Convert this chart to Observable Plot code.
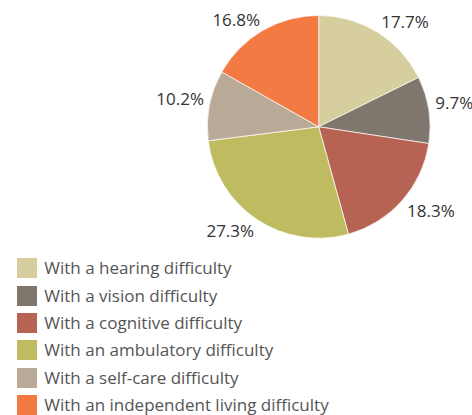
<!DOCTYPE html>
<html>
<head>
<meta charset="utf-8">
<script src="https://cdn.jsdelivr.net/npm/d3@7"></script>
<script src="https://cdn.jsdelivr.net/npm/@observablehq/plot@0.6"></script>
<style>
  body { margin: 0; background: #fff; font-family: "Open Sans", sans-serif; }
  #chart svg { display: block; }
  .leg-swatches { font-family: "Open Sans", sans-serif; font-size: 17px; color: #555; margin: 8.3px 0 0 17px; }
  .leg-swatch { padding-bottom: 7.4px; }
  .leg-swatch > svg { margin-right: 7.3px; }
  .leg-swatch-label { line-height: 20px; overflow: visible; text-overflow: clip; }
</style>
</head>
<body>
<div id="chart"></div>
<script>
// ---- data ----
const categories = [
  "With a hearing difficulty",
  "With a vision difficulty",
  "With a cognitive difficulty",
  "With an ambulatory difficulty",
  "With a self-care difficulty",
  "With an independent living difficulty"
];
const shares = [17.7, 9.7, 18.3, 27.3, 10.2, 16.8];
const colors = ["#d7ce9f", "#7f776d", "#b66353", "#bfbb60", "#b9aa97", "#f47a44"];

// ---- derived table ----
const data = categories.map((category, i) => ({category, share: shares[i]}));
const arcs = d3.pie().sort(null).value(d => d.share)(data);
const LABEL_R = 1.054;
const labelData = arcs.map(a => {
  const m = (a.startAngle + a.endAngle) / 2;
  return {
    label: a.data.share.toFixed(1) + "%",
    x: Math.sin(m) * LABEL_R,
    y: Math.cos(m) * LABEL_R,
    right: Math.sin(m) >= 0,
    upper: Math.cos(m) >= 0
  };
});

function pieSlices(index, scales) {
  const cx = scales.x(0), cy = scales.y(0);
  const r = scales.x(1) - cx;
  const arc = d3.arc().innerRadius(0).outerRadius(r);
  const g = d3.create("svg:g").attr("transform", `translate(${cx},${cy})`);
  g.selectAll("path").data(arcs).join("path")
    .attr("d", arc)
    .attr("fill", d => scales.color(d.data.category))
    .attr("stroke", "#fff")
    .attr("stroke-width", 0.7);
  return g.node();
}

const textMarks = [];
for (const right of [true, false]) {
  for (const upper of [true, false]) {
    textMarks.push(Plot.text(labelData.filter(d => d.right === right && d.upper === upper), {
      x: "x", y: "y", text: "label",
      textAnchor: right ? "start" : "end",
      lineAnchor: upper ? "bottom" : "top",
      fill: "#333", fontSize: 17
    }));
  }
}

const plot = Plot.plot({
  width: 472,
  height: 250,
  margin: 0,
  style: {fontFamily: "Open Sans, sans-serif", background: "#fff"},
  x: {domain: [-1, 1], range: [207.3, 430.1], axis: null},
  y: {domain: [-1, 1], range: [238.2, 15.4], axis: null},
  color: {type: "ordinal", domain: categories, range: colors},
  marks: [
    Plot.dot(data, {x: () => 0, y: () => 0, fill: "category", r: 0}),
    pieSlices,
    ...textMarks
  ]
});

const chart = document.getElementById("chart");
chart.appendChild(plot);
chart.appendChild(plot.legend("color", {
  legend: "swatches",
  columns: 1,
  swatchSize: 20,
  className: "leg"
}));
</script>
</body>
</html>
